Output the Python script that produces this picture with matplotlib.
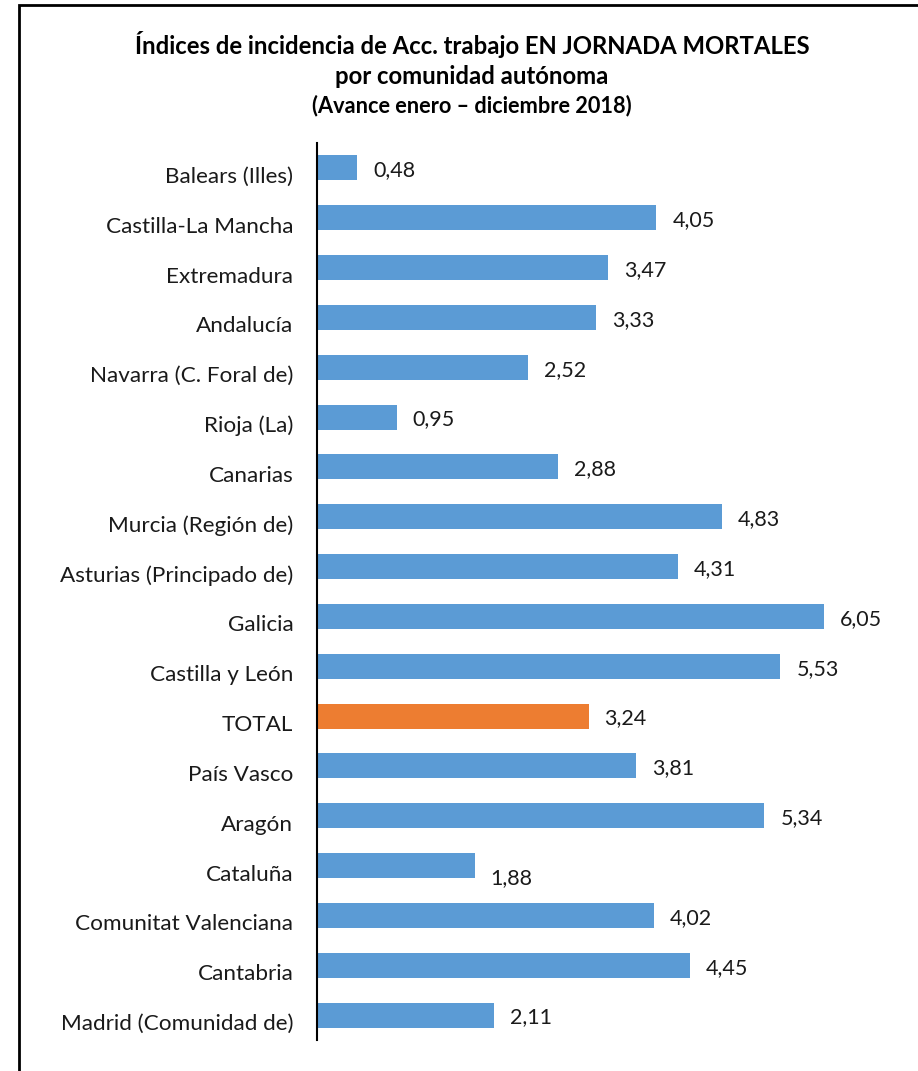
import matplotlib.pyplot as plt
from matplotlib.patches import Rectangle
from matplotlib.transforms import ScaledTranslation

regiones = ['Balears (Illes)', 'Castilla-La Mancha', 'Extremadura', 'Andalucía',
            'Navarra (C. Foral de)', 'Rioja (La)', 'Canarias', 'Murcia (Región de)',
            'Asturias (Principado de)', 'Galicia', 'Castilla y León', 'TOTAL',
            'País Vasco', 'Aragón', 'Cataluña', 'Comunitat Valenciana',
            'Cantabria', 'Madrid (Comunidad de)']
indices = [0.48, 4.05, 3.47, 3.33, 2.52, 0.95, 2.88, 4.83, 4.31, 6.05, 5.53, 3.24,
           3.81, 5.34, 1.88, 4.02, 4.45, 2.11]

BLUE = '#5B9BD5'
ORANGE = '#ED7D31'
FONT = ['Lato', 'DejaVu Sans']

plt.rcParams['font.family'] = FONT

W, H = 918, 1071
fig = plt.figure(figsize=(W / 100, H / 100), dpi=100)

# outer frame (right and bottom edges fall outside the picture)
fig.patches.append(Rectangle((19 / W, -0.05), 1.1, 1 - 5 / H + 0.05,
                             transform=fig.transFigure, fill=False,
                             edgecolor='black', linewidth=2))

ax = fig.add_axes([317 / W, 1 - 1040 / H, 1 - 317 / W, (1040 - 143) / H])

colors = [ORANGE if r == 'TOTAL' else BLUE for r in regiones]
y = range(len(regiones))
ax.barh(y, indices, height=0.5, color=colors)
ax.set_ylim(len(regiones) - 0.5, -0.5)
ax.set_xlim(0, (W - 317) / 83.8)

for i, v in enumerate(indices):
    dy = 0.26 if regiones[i] == 'Cataluña' else 0.05
    ax.text(v + 0.19, i + dy, f'{v:.2f}'.replace('.', ','), va='center',
            ha='left', fontsize=15.5, color='#1a1a1a')

ax.set_yticks(list(y))
ax.set_yticklabels(regiones, fontsize=16.2, color='#1a1a1a')
ax.tick_params(axis='y', length=0, pad=17)
shift = ScaledTranslation(0, -7 / 100, fig.dpi_scale_trans)
for lbl in ax.get_yticklabels():
    lbl.set_transform(lbl.get_transform() + shift)
ax.set_xticks([])
for s in ['top', 'right', 'bottom']:
    ax.spines[s].set_visible(False)
ax.spines['left'].set_linewidth(1.5)

fig.text(472 / W, 1 - 45 / H, 'Índices de incidencia de Acc. trabajo EN JORNADA MORTALES',
         ha='center', va='center', fontsize=17.2, fontweight='bold')
fig.text(472 / W, 1 - 76 / H, 'por comunidad autónoma',
         ha='center', va='center', fontsize=17.2, fontweight='bold')
fig.text(472 / W, 1 - 106 / H, '(Avance enero – diciembre 2018)',
         ha='center', va='center', fontsize=15.7, fontweight='bold')

fig.savefig('out.png', dpi=100)
